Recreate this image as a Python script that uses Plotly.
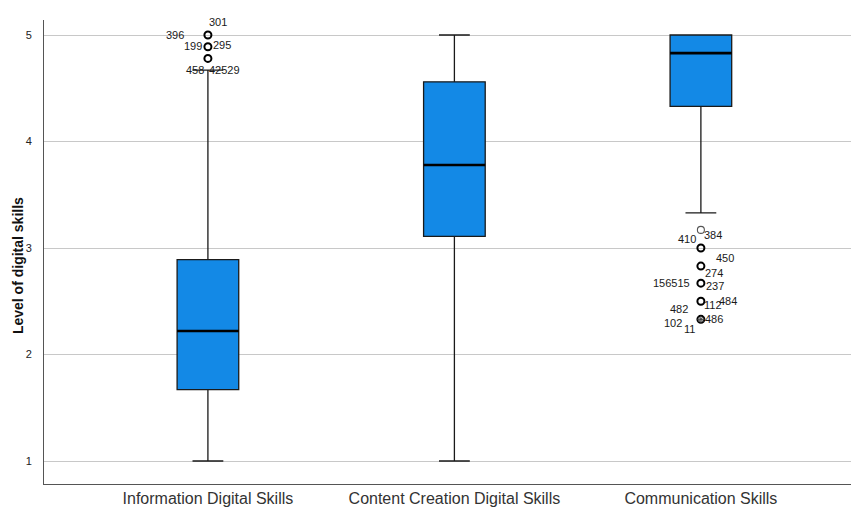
import plotly.graph_objects as go

categories = ["Information Digital Skills", "Content Creation Digital Skills", "Communication Skills"]
lower_whisker = [1.00, 1.00, 3.33]
q1_values = [1.67, 3.11, 4.33]
median_values = [2.22, 3.78, 4.83]
q3_values = [2.89, 4.56, 5.00]
upper_whisker = [4.67, 5.00, 5.00]

# outliers: category index, value
outlier_cat = [0, 0, 0, 2, 2, 2, 2, 2, 2]
outlier_val = [5.00, 4.89, 4.78, 3.17, 3.00, 2.83, 2.67, 2.50, 2.33]
outlier_bold = [True, True, True, False, True, True, True, True, True]
extreme_cat = [2]
extreme_val = [2.33]

# case labels: category index, value, label
label_cat = [0, 0, 0, 0, 0, 0,
             2, 2, 2, 2, 2, 2, 2, 2, 2, 2, 2, 2]
label_val = [5.00, 5.00, 4.89, 4.89, 4.78, 4.78,
             3.17, 3.17, 3.00, 2.83, 2.67, 2.67, 2.50, 2.50, 2.50, 2.33, 2.33, 2.33]
label_text = ["301", "396", "199", "295", "458", "42529",
              "410", "384", "450", "274", "156515", "237", "482", "112", "484", "486", "102", "11"]
# label offsets (pixels) - styling
label_dx = [10, -33, -15, 14, -13, 17,
            -14, 12, 24, 13, -29, 14, -22, 12, 27, 13, -28, -11]
label_dy = [13, 0, 1, 2, -12, -12,
            -9, -5, -10, -7, 0, -3, -8, -4, 0, 0, -4, -10]

BOX_W = 0.25
BLUE = "#1389e6"
xs = list(range(len(categories)))

fig = go.Figure()
fig.add_trace(go.Box(
    x=xs, q1=q1_values, median=median_values, q3=q3_values,
    lowerfence=lower_whisker, upperfence=upper_whisker,
    width=BOX_W, whiskerwidth=0.5,
    fillcolor=BLUE, line=dict(color="#1a1a1a", width=1.3),
    boxpoints=False, showlegend=False, hoverinfo="skip",
))

# thicker median lines
for i, m in zip(xs, median_values):
    fig.add_trace(go.Scatter(
        x=[i - BOX_W / 2, i + BOX_W / 2], y=[m, m], mode="lines",
        line=dict(color="black", width=2.6), showlegend=False, hoverinfo="skip",
    ))

bx = [c for c, b in zip(outlier_cat, outlier_bold) if b]
by = [v for v, b in zip(outlier_val, outlier_bold) if b]
lx = [c for c, b in zip(outlier_cat, outlier_bold) if not b]
ly = [v for v, b in zip(outlier_val, outlier_bold) if not b]

fig.add_trace(go.Scatter(
    x=bx, y=by, mode="markers", cliponaxis=False,
    marker=dict(symbol="circle-open", size=7, color="black", line=dict(width=2)),
    showlegend=False, hoverinfo="skip",
))
fig.add_trace(go.Scatter(
    x=lx, y=ly, mode="markers", cliponaxis=False,
    marker=dict(symbol="circle-open", size=7, color="#555555", line=dict(width=1.1)),
    showlegend=False, hoverinfo="skip",
))
fig.add_trace(go.Scatter(
    x=extreme_cat, y=extreme_val, mode="markers", cliponaxis=False,
    marker=dict(symbol="asterisk-open", size=6, color="#444", line=dict(width=1)),
    showlegend=False, hoverinfo="skip",
))

for c, v, t, dx, dy in zip(label_cat, label_val, label_text, label_dx, label_dy):
    fig.add_annotation(
        x=c, y=v, text=t, showarrow=False, xshift=dx, yshift=dy,
        font=dict(family="Liberation Sans, Arial", size=11, color="#1a1a1a"),
    )

# y-axis title
fig.add_annotation(
    xref="paper", yref="paper", x=-0.032, y=0.47, text="<b>Level of digital skills</b>",
    textangle=-90, showarrow=False, xanchor="center", yanchor="middle",
    font=dict(family="Liberation Sans, Arial", size=14, color="#111"),
)

fig.update_layout(
    width=851, height=509,
    margin=dict(l=44, r=0, t=20, b=25),
    paper_bgcolor="white", plot_bgcolor="white",
    font=dict(family="Liberation Sans, Arial", color="#222"),
)
fig.update_xaxes(
    range=[-0.665, 2.609], tickvals=xs, ticktext=categories,
    showgrid=False, zeroline=False, showline=True, linecolor="#555", linewidth=1,
    ticks="", tickfont=dict(size=16, color="#333"),
)
fig.update_yaxes(
    range=[0.784, 5.141], tickvals=[1, 2, 3, 4, 5],
    showgrid=True, gridcolor="#c8c8c8", gridwidth=1.2, zeroline=False,
    showline=True, linecolor="#555", linewidth=1, ticks="",
    ticklabelstandoff=9,
    tickfont=dict(size=11, color="#222"),
)

fig.write_html("out.html")
